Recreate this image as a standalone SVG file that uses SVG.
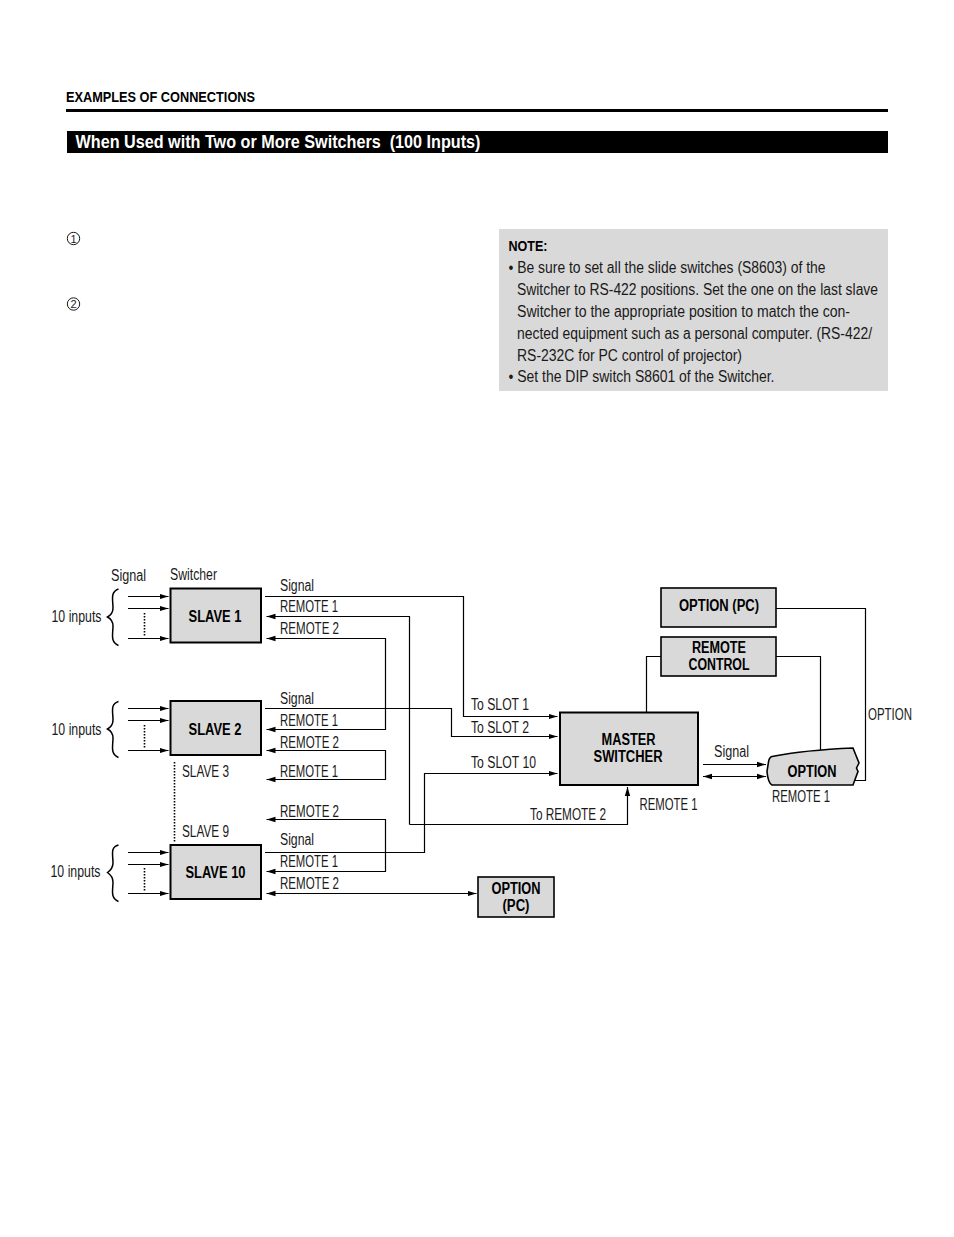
<svg xmlns="http://www.w3.org/2000/svg" width="954" height="1237" viewBox="0 0 954 1237">
<defs>
<marker id="a" markerUnits="userSpaceOnUse" markerWidth="10" markerHeight="7" refX="9" refY="3.500" orient="auto-start-reverse"><path d="M0 .8L9 3.500L0 6.200Z" fill="#000"/></marker>
</defs>
<style>
text{font-family:"Liberation Sans",Arial,sans-serif;fill:#1a1a1a;font-size:16px}
.b{font-weight:bold;fill:#000}
.box{fill:#d9d9d9;stroke:#000;stroke-width:2}
.thin{stroke-width:1.600}
.w{fill:none;stroke:#000;stroke-width:1.200}
.br{fill:none;stroke:#000;stroke-width:1.500}
.arr{marker-end:url(#a)}
.two{marker-start:url(#a);marker-end:url(#a)}
.d{fill:none;stroke:#000;stroke-width:1.600;stroke-dasharray:1.500 1.500}
</style>
<rect width="954" height="1237" fill="#fff"/>
<g id="header">
<text class="b" x="66" y="102" style="font-size:15.500px" textLength="189" lengthAdjust="spacingAndGlyphs">EXAMPLES OF CONNECTIONS</text>
<rect x="66" y="109" width="822" height="3" fill="#000"/>
<rect x="67" y="131" width="821" height="22" fill="#000"/>
<text class="b" x="75.500" y="148" xml:space="preserve" style="font-size:18.500px;fill:#fff" textLength="405" lengthAdjust="spacingAndGlyphs">When Used with Two or More Switchers  (100 Inputs)</text>
</g>
<g id="steps">
<circle cx="73.500" cy="238.500" r="6.200" fill="none" stroke="#000" stroke-width=".9"/><text x="73.500" y="242.500" text-anchor="middle" style="font-size:11px">1</text>
<circle cx="73.500" cy="304" r="6.200" fill="none" stroke="#000" stroke-width=".9"/><text x="73.500" y="308" text-anchor="middle" style="font-size:11px">2</text>
</g>
<g id="note">
<rect x="499" y="229" width="389" height="162" fill="#d9d9d9"/>
<text class="b" x="508.500" y="250.500" style="font-size:15.500px" textLength="39" lengthAdjust="spacingAndGlyphs">NOTE:</text>
<text x="508.500" y="272.500" textLength="317" lengthAdjust="spacingAndGlyphs">• Be sure to set all the slide switches (S8603) of the</text>
<text x="517" y="294.500" textLength="361" lengthAdjust="spacingAndGlyphs">Switcher to RS-422 positions. Set the one on the last slave</text>
<text x="517" y="316.500" textLength="333" lengthAdjust="spacingAndGlyphs">Switcher to the appropriate position to match the con-</text>
<text x="517" y="338.500" textLength="355" lengthAdjust="spacingAndGlyphs">nected equipment such as a personal computer. (RS-422/</text>
<text x="517" y="360.500" textLength="225" lengthAdjust="spacingAndGlyphs">RS-232C for PC control of projector)</text>
<text x="508.500" y="381.500" textLength="266" lengthAdjust="spacingAndGlyphs">• Set the DIP switch S8601 of the Switcher.</text>
</g>
<g id="connectors">
<g id="inputs">
<path class="w arr" d="M128 596.500H168.500"/><path class="w arr" d="M128 608.500H168.500"/><path class="w arr" d="M128 638.500H168.500"/>
<path class="w arr" d="M128 708.500H168.500"/><path class="w arr" d="M128 720.500H168.500"/><path class="w arr" d="M128 750.500H168.500"/>
<path class="w arr" d="M128 852.500H168.500"/><path class="w arr" d="M128 864.500H168.500"/><path class="w arr" d="M128 893.500H168.500"/>
<path class="d" d="M144.500 613V636"/><path class="d" d="M144.500 725V748"/><path class="d" d="M144.500 868V891"/>
<path class="d" d="M174.500 762V842"/>
<path class="br" d="M118.500 589C110 592 113 600 113 608C113 613 111 615 107.500 617C111 619 113 621 113 626C113 634 110 642 118.500 645.500"/>
<path class="br" d="M118.500 701.500C110 704 113 712 113 720C113 725 111 727 107.500 729C111 731 113 733 113 738C113 746 110 754 118.500 757.500"/>
<path class="br" d="M118.500 845C110 847 113 855 113 863C113 868 111 870 107.500 872.500C111 875 113 877 113 882C113 890 110 898 118.500 901.500"/>
</g>
<path class="w arr" d="M265 596.500H463.500V716.500H557.500"/>
<path class="w arr" d="M265 708.500H451.500V736.500H557.500"/>
<path class="w arr" d="M265 852.500H424.500V773.500H557.500"/>
<path class="w arr" d="M409.500 824.500V616.500H266.500"/>
<path class="w arr" d="M409.500 824.500H627.500V787"/>
<path class="w two" d="M266.500 638.500H385.500V729.500H266.500"/>
<path class="w two" d="M266.500 750.500H385.500V779.500H266.500"/>
<path class="w two" d="M266.500 819.500H385.500V871.500H266.500"/>
<path class="w two" d="M266.500 893.500H476.500"/>
<path class="w" d="M646.500 712V656.500H661"/>
<path class="w" d="M776 656.500H820.500V750"/>
<path class="w" d="M776 608.500H865.500V780.500H855"/>
<path class="w arr" d="M703 764.500H766"/>
<path class="w two" d="M703 776.500H766"/>
</g>
<g id="slave1"><rect class="box" x="170.500" y="588.500" width="90.500" height="54"/><text class="b" x="215" y="622" text-anchor="middle" textLength="53" lengthAdjust="spacingAndGlyphs">SLAVE 1</text></g>
<g id="slave2"><rect class="box" x="170.500" y="701" width="90.500" height="54"/><text class="b" x="215" y="734.500" text-anchor="middle" textLength="53" lengthAdjust="spacingAndGlyphs">SLAVE 2</text></g>
<g id="slave10"><rect class="box" x="170.500" y="845" width="90.500" height="54"/><text class="b" x="215.500" y="878" text-anchor="middle" textLength="60" lengthAdjust="spacingAndGlyphs">SLAVE 10</text></g>
<g id="master"><rect class="box" x="560" y="712.500" width="138" height="72.500"/><text class="b" x="628.500" y="744.500" text-anchor="middle" textLength="54" lengthAdjust="spacingAndGlyphs">MASTER</text><text class="b" x="628" y="761.500" text-anchor="middle" textLength="69" lengthAdjust="spacingAndGlyphs">SWITCHER</text></g>
<g id="option-pc-top"><rect class="box thin" x="661" y="588" width="115" height="39"/><text class="b" x="719" y="611" text-anchor="middle" textLength="80" lengthAdjust="spacingAndGlyphs">OPTION (PC)</text></g>
<g id="remote-control"><rect class="box thin" x="661" y="637" width="115" height="39"/><text class="b" x="719" y="652.500" text-anchor="middle" textLength="54" lengthAdjust="spacingAndGlyphs">REMOTE</text><text class="b" x="719" y="669.500" text-anchor="middle" textLength="61" lengthAdjust="spacingAndGlyphs">CONTROL</text></g>
<g id="option-pc-bottom"><rect class="box thin" x="478" y="877" width="76" height="40"/><text class="b" x="516" y="893.500" text-anchor="middle" textLength="49" lengthAdjust="spacingAndGlyphs">OPTION</text><text class="b" x="516" y="910.500" text-anchor="middle" textLength="27" lengthAdjust="spacingAndGlyphs">(PC)</text></g>
<g id="option"><path d="M767 771.500L768.500 762Q769 757.500 772 756.500Q805 750 853 748L859 763L856.500 768L858 771.500L853 785H772Q768 783 767 771.500Z" fill="#d9d9d9" stroke="#000" stroke-width="1.600"/><text class="b" x="812" y="776.500" text-anchor="middle" textLength="49" lengthAdjust="spacingAndGlyphs">OPTION</text></g>
<g id="labels">
<text x="111" y="580.500" textLength="35" lengthAdjust="spacingAndGlyphs">Signal</text>
<text x="170" y="579.500" textLength="47" lengthAdjust="spacingAndGlyphs">Switcher</text>
<text x="51.500" y="621.500" textLength="50" lengthAdjust="spacingAndGlyphs">10 inputs</text>
<text x="51.500" y="734.500" textLength="50" lengthAdjust="spacingAndGlyphs">10 inputs</text>
<text x="50.500" y="876.500" textLength="50" lengthAdjust="spacingAndGlyphs">10 inputs</text>
<text x="280" y="590.500" textLength="34" lengthAdjust="spacingAndGlyphs">Signal</text>
<text x="280" y="611.500" textLength="58" lengthAdjust="spacingAndGlyphs">REMOTE 1</text>
<text x="280" y="633.500" textLength="59" lengthAdjust="spacingAndGlyphs">REMOTE 2</text>
<text x="280" y="703.500" textLength="34" lengthAdjust="spacingAndGlyphs">Signal</text>
<text x="280" y="725.500" textLength="58" lengthAdjust="spacingAndGlyphs">REMOTE 1</text>
<text x="280" y="747.500" textLength="59" lengthAdjust="spacingAndGlyphs">REMOTE 2</text>
<text x="182" y="776.500" textLength="47" lengthAdjust="spacingAndGlyphs">SLAVE 3</text>
<text x="280" y="776.500" textLength="58" lengthAdjust="spacingAndGlyphs">REMOTE 1</text>
<text x="280" y="816.500" textLength="59" lengthAdjust="spacingAndGlyphs">REMOTE 2</text>
<text x="182" y="836.500" textLength="47" lengthAdjust="spacingAndGlyphs">SLAVE 9</text>
<text x="280" y="844.500" textLength="34" lengthAdjust="spacingAndGlyphs">Signal</text>
<text x="280" y="866.500" textLength="58" lengthAdjust="spacingAndGlyphs">REMOTE 1</text>
<text x="280" y="888.500" textLength="59" lengthAdjust="spacingAndGlyphs">REMOTE 2</text>
<text x="471" y="709.500" textLength="58" lengthAdjust="spacingAndGlyphs">To SLOT 1</text>
<text x="471" y="732.500" textLength="58" lengthAdjust="spacingAndGlyphs">To SLOT 2</text>
<text x="471" y="767.500" textLength="65" lengthAdjust="spacingAndGlyphs">To SLOT 10</text>
<text x="530" y="819.500" textLength="76" lengthAdjust="spacingAndGlyphs">To REMOTE 2</text>
<text x="639.500" y="809.500" textLength="58" lengthAdjust="spacingAndGlyphs">REMOTE 1</text>
<text x="714" y="756.500" textLength="35" lengthAdjust="spacingAndGlyphs">Signal</text>
<text x="772" y="801.500" textLength="58" lengthAdjust="spacingAndGlyphs">REMOTE 1</text>
<text x="868" y="719.500" textLength="44" lengthAdjust="spacingAndGlyphs">OPTION</text>
</g>
</svg>
